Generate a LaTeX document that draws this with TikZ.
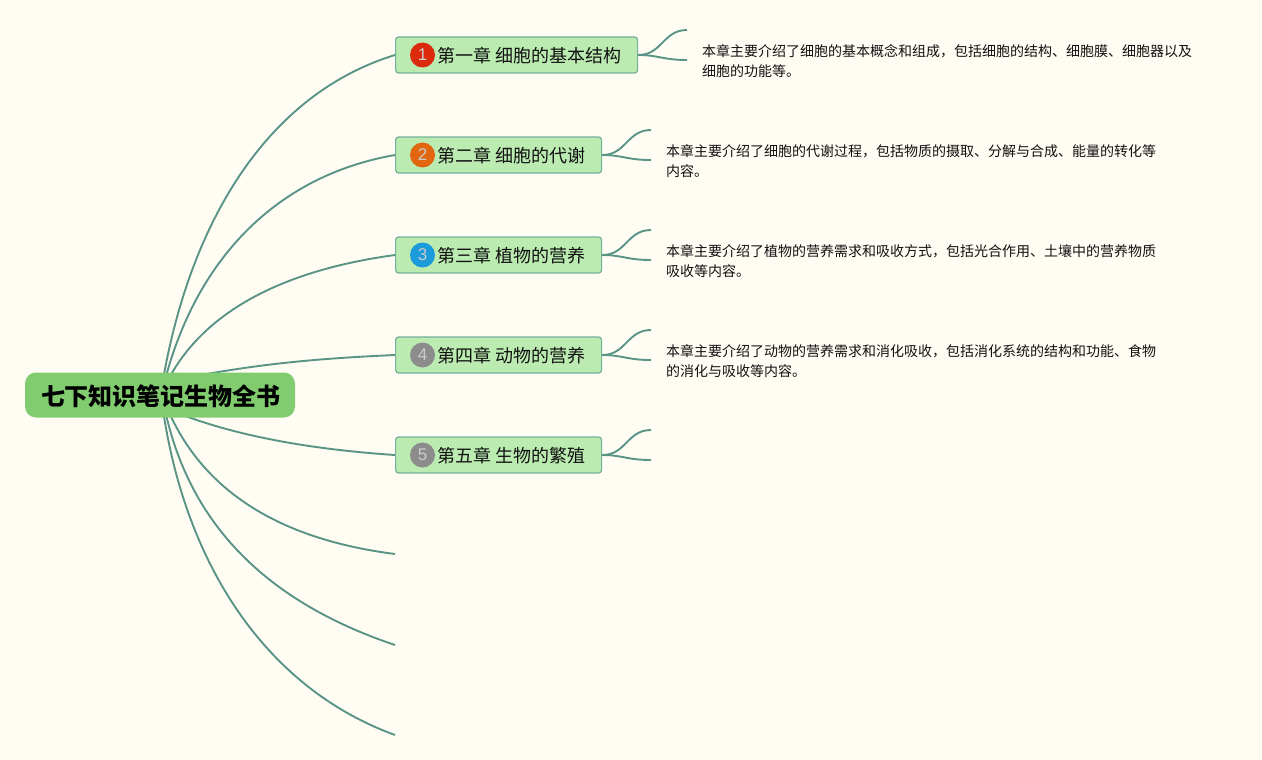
\documentclass[tikz,border=0pt]{standalone}
\usepackage{fontspec}
\setmainfont{Noto Sans CJK SC}
\newfontfamily\numfont{Liberation Sans}
\definecolor{bgc}{HTML}{FFFCF3}
\definecolor{linec}{HTML}{5A9487}
\definecolor{rootc}{HTML}{82CC70}
\definecolor{topicc}{HTML}{BBEBB1}
\definecolor{topicb}{HTML}{74B09A}
\definecolor{txtc}{HTML}{111111}
\definecolor{bred}{HTML}{DB2A0C}
\definecolor{borange}{HTML}{E2650F}
\definecolor{bblue}{HTML}{1B9BD9}
\definecolor{bgray}{HTML}{8C8C8C}
\tikzset{
  conn/.style={draw=linec,line width=1.9pt},
  rootbox/.style={fill=rootc,rounded corners=11pt,minimum height=45pt,minimum width=270pt,inner sep=0pt},
  topicbox/.style={fill=topicc,draw=topicb,line width=1.2pt,rounded corners=3pt,minimum height=36pt,inner sep=0pt,anchor=west},
  badge/.style={circle,minimum size=25pt,inner sep=0pt,text=white!80!black,font=\fontsize{17}{17}\selectfont\numfont},
  topictext/.style={anchor=west,inner sep=0pt,font=\fontsize{18}{18}\selectfont,text=txtc},
  note/.style={anchor=north west,inner sep=0pt,align=left,font=\fontsize{14}{20}\selectfont,text=txtc},
}
\begin{document}
\begin{tikzpicture}[x=1pt,y=-1pt]
\fill[bgc] (0,0) rectangle (1262,760);
\useasboundingbox (0,0) rectangle (1262,760);
% free ends
\coordinate (e6) at (395,554);
\coordinate (e7) at (395,645);
\coordinate (e8) at (395,735);
\coordinate (a1) at (687,30); \coordinate (c1) at (687,60);
\coordinate (a2) at (651,130); \coordinate (c2) at (651,160);
\coordinate (a3) at (651,230); \coordinate (c3) at (651,260);
\coordinate (a4) at (651,330); \coordinate (c4) at (651,360);
\coordinate (a5) at (651,430); \coordinate (c5) at (651,460);
% attachment points
\coordinate (h1) at (395,55);
\coordinate (h2) at (395,155);
\coordinate (h3) at (395,255);
\coordinate (h4) at (395,355);
\coordinate (h5) at (395,455);
% connectors from the root
\draw[conn] (163,380) .. controls (190,225) and (265,95) .. (h1);
\draw[conn] (165,380) .. controls (198,255) and (280,175) .. (h2);
\draw[conn] (168,380) .. controls (205,310) and (285,270) .. (h3);
\draw[conn] (190,377) .. controls (270,362) and (330,358) .. (h4);
\draw[conn] (175,412) .. controls (240,438) and (320,450) .. (h5);
\draw[conn] (168,410) .. controls (205,495) and (285,540) .. (e6);
\draw[conn] (165,410) .. controls (190,525) and (267,602) .. (e7);
\draw[conn] (163,410) .. controls (186,565) and (266,688) .. (e8);
\node[rootbox] (root) at (160,395) {};
\node[font=\fontsize{24}{24}\selectfont\bfseries,text=black,inner sep=0pt] (roottext) at (161,396) {七下知识笔记生物全书};
\node[topicbox,minimum width=242pt] (t1) at (h1) {};
\node[topicbox,minimum width=206pt] (t2) at (h2) {};
\node[topicbox,minimum width=206pt] (t3) at (h3) {};
\node[topicbox,minimum width=206pt] (t4) at (h4) {};
\node[topicbox,minimum width=206pt] (t5) at (h5) {};
\node[badge,fill=bred] (b1) at (422.5,55) {1};
\node[badge,fill=borange] (b2) at (422.5,155) {2};
\node[badge,fill=bblue] (b3) at (422.5,255) {3};
\node[badge,fill=bgray] (b4) at (422.5,355) {4};
\node[badge,fill=bgray] (b5) at (422.5,455) {5};
\node[topictext] (l1) at (437,56) {第一章 细胞的基本结构};
\node[topictext] (l2) at (437,156) {第二章 细胞的代谢};
\node[topictext] (l3) at (437,256) {第三章 植物的营养};
\node[topictext] (l4) at (437,356) {第四章 动物的营养};
\node[topictext] (l5) at (437,456) {第五章 生物的繁殖};
\node[note] (n1) at (702,44.5) {本章主要介绍了细胞的基本概念和组成，包括细胞的结构、细胞膜、细胞器以及\\细胞的功能等。};
\node[note] (n2) at (666,144.5) {本章主要介绍了细胞的代谢过程，包括物质的摄取、分解与合成、能量的转化等\\内容。};
\node[note] (n3) at (666,244.5) {本章主要介绍了植物的营养需求和吸收方式，包括光合作用、土壤中的营养物质\\吸收等内容。};
\node[note] (n4) at (666,344.5) {本章主要介绍了动物的营养需求和消化吸收，包括消化系统的结构和功能、食物\\的消化与吸收等内容。};
\foreach \n in {1,...,5}{
  \draw[conn] (t\n.east) .. controls +(24,0) and +(-24,0) .. (a\n);
  \draw[conn] (t\n.east) .. controls +(20,0) and +(-24,0) .. (c\n);
}
\end{tikzpicture}
\end{document}
